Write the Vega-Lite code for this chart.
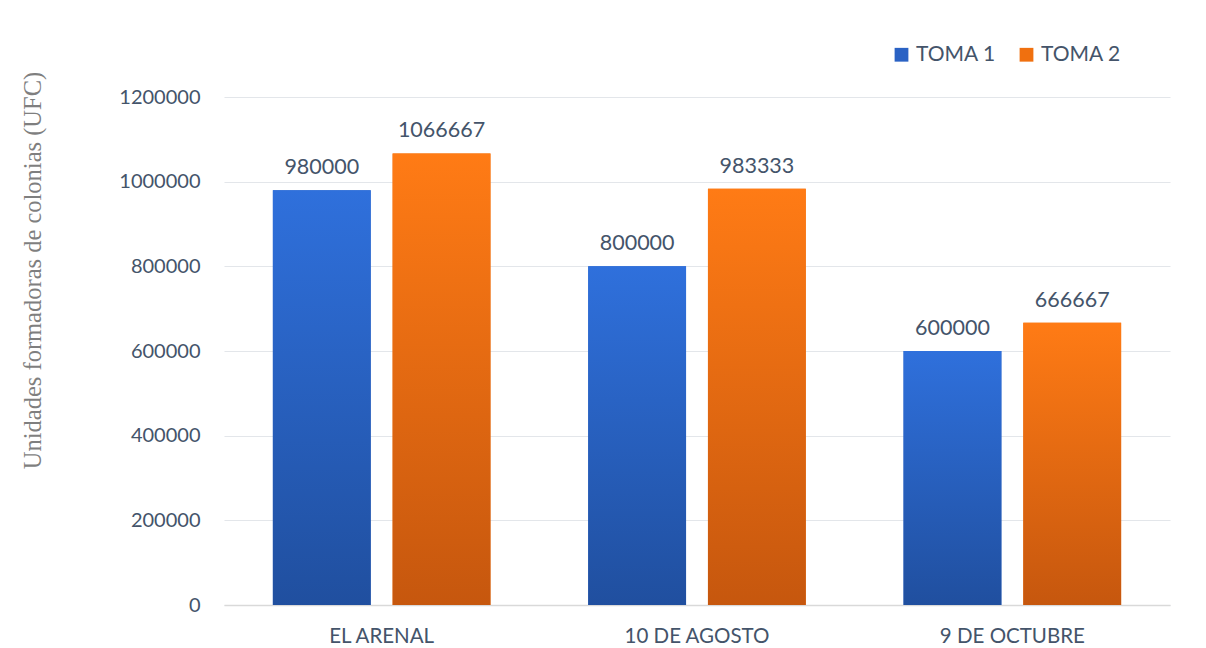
{
  "$schema": "https://vega.github.io/schema/vega-lite/v6.json",
  "width": 946,
  "height": 508,
  "autosize": {"type": "none"},
  "padding": {"left": 224, "top": 97, "right": 36, "bottom": 43},
  "background": "white",
  "config": {
    "view": {"stroke": null},
    "font": "Lato"
  },
  "data": {
    "values": [
      {"sitio": "EL ARENAL", "toma": "TOMA 1", "ufc": 980000},
      {"sitio": "EL ARENAL", "toma": "TOMA 2", "ufc": 1066667},
      {"sitio": "10 DE AGOSTO", "toma": "TOMA 1", "ufc": 800000},
      {"sitio": "10 DE AGOSTO", "toma": "TOMA 2", "ufc": 983333},
      {"sitio": "9 DE OCTUBRE", "toma": "TOMA 1", "ufc": 600000},
      {"sitio": "9 DE OCTUBRE", "toma": "TOMA 2", "ufc": 666667}
    ]
  },
  "encoding": {
    "x": {
      "field": "sitio",
      "type": "nominal",
      "sort": null,
      "scale": {"paddingInner": 0.31, "paddingOuter": 0.155},
      "axis": {
        "title": null,
        "labelAngle": 0,
        "labelFont": "Lato",
        "labelFontSize": 20.5,
        "labelColor": "#44546A",
        "labelPadding": 21,
        "ticks": false,
        "domainColor": "#D9D9D9",
        "domainWidth": 1.5
      }
    },
    "xOffset": {
      "field": "toma",
      "type": "nominal",
      "scale": {"paddingInner": 0.183, "paddingOuter": 0}
    },
    "y": {
      "field": "ufc",
      "type": "quantitative",
      "scale": {"domain": [0, 1200000], "nice": false},
      "axis": {
        "values": [0, 200000, 400000, 600000, 800000, 1000000, 1200000],
        "format": "d",
        "title": "Unidades formadoras de colonias (UFC)",
        "titleFont": "Liberation Serif",
        "titleFontSize": 24.5,
        "titleFontWeight": "normal",
        "titleColor": "#7F7F7F",
        "titleAngle": -90,
        "titleX": -191,
        "titleY": 173,
        "titleAlign": "center",
        "titleBaseline": "middle",
        "labelFont": "Lato",
        "labelFontSize": 20,
        "labelColor": "#44546A",
        "labelPadding": 24,
        "ticks": false,
        "domain": false,
        "grid": true,
        "gridColor": "#E3E6EA",
        "gridWidth": 1.2
      }
    }
  },
  "layer": [
    {
      "mark": {"type": "bar"},
      "encoding": {
        "color": {
          "field": "toma",
          "type": "nominal",
          "scale": {"domain": ["TOMA 1", "TOMA 2"], "range": ["#2A62C4", "#F0700F"]},
          "legend": {
            "title": null,
            "orient": "none",
            "direction": "horizontal",
            "legendX": 667,
            "legendY": -53,
            "symbolType": "square",
            "symbolSize": 190,
            "symbolStrokeWidth": 0,
            "labelFont": "Lato",
            "labelFontSize": 21,
            "labelColor": "#44546A",
            "labelOffset": 4,
            "columnPadding": 20
          }
        }
      }
    },
    {
      "mark": {"type": "bar"},
      "encoding": {
        "fill": {
          "condition": {
            "test": "datum.toma === 'TOMA 1'",
            "value": {
              "gradient": "linear",
              "x1": 0, "y1": 0, "x2": 0, "y2": 1,
              "stops": [
                {"offset": 0, "color": "#2F70DC"},
                {"offset": 1, "color": "#204F9F"}
              ]
            }
          },
          "value": {
            "gradient": "linear",
            "x1": 0, "y1": 0, "x2": 0, "y2": 1,
            "stops": [
              {"offset": 0, "color": "#FF7B15"},
              {"offset": 1, "color": "#C6570E"}
            ]
          }
        }
      }
    },
    {
      "mark": {
        "type": "text",
        "baseline": "alphabetic",
        "dy": -16,
        "font": "Lato",
        "fontSize": 21.5,
        "color": "#44546A"
      },
      "encoding": {
        "text": {"field": "ufc", "type": "quantitative", "format": "d"}
      }
    }
  ]
}
